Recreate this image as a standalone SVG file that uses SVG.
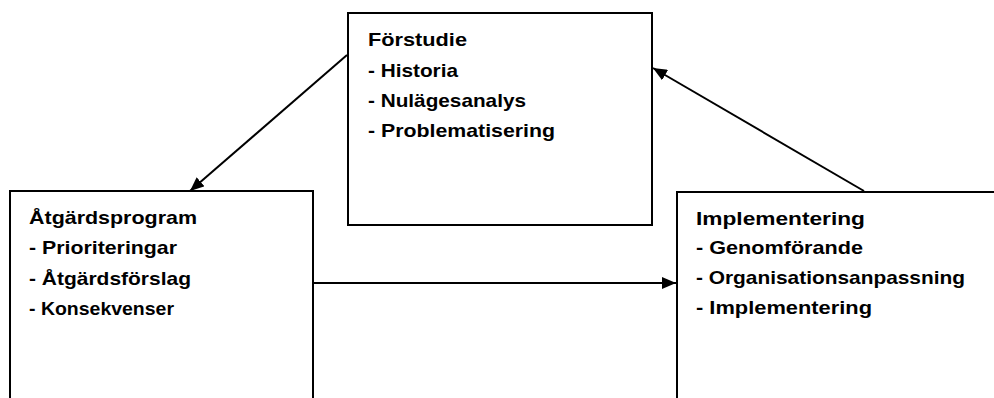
<svg xmlns="http://www.w3.org/2000/svg" width="994" height="398" viewBox="0 0 994 398">
  <style>
    .box { fill: #ffffff; stroke: #000000; stroke-width: 2; }
    .edge { fill: none; stroke: #000000; stroke-width: 2; }
    .t { font-family: "Liberation Sans", Arial, sans-serif; font-weight: bold; font-size: 19px; fill: #000000; }
  </style>
  <defs>
    <marker id="arrow" viewBox="0 0 14 12" refX="14" refY="6" markerWidth="14" markerHeight="12" markerUnits="userSpaceOnUse" orient="auto">
      <path d="M0,0 L14,6 L0,12 Z" fill="#000000"/>
    </marker>
  </defs>
  <rect width="994" height="398" fill="#ffffff"/>

  <g id="forstudie">
    <rect class="box" x="348" y="13" width="304" height="212"/>
    <text class="t" x="368" y="46" textLength="99" lengthAdjust="spacingAndGlyphs">Förstudie</text>
    <text class="t" x="368" y="77" textLength="90" lengthAdjust="spacingAndGlyphs">- Historia</text>
    <text class="t" x="368" y="107" textLength="158" lengthAdjust="spacingAndGlyphs">- Nulägesanalys</text>
    <text class="t" x="368" y="137" textLength="187" lengthAdjust="spacingAndGlyphs">- Problematisering</text>
  </g>

  <g id="atgardsprogram">
    <rect class="box" x="10" y="191" width="303" height="220"/>
    <text class="t" x="29" y="224" textLength="168" lengthAdjust="spacingAndGlyphs">Åtgärdsprogram</text>
    <text class="t" x="29" y="254" textLength="148" lengthAdjust="spacingAndGlyphs">- Prioriteringar</text>
    <text class="t" x="29" y="285" textLength="162" lengthAdjust="spacingAndGlyphs">- Åtgärdsförslag</text>
    <text class="t" x="29" y="315" textLength="145" lengthAdjust="spacingAndGlyphs">- Konsekvenser</text>
  </g>

  <g id="implementering">
    <rect class="box" x="677" y="192" width="330" height="220"/>
    <text class="t" x="696" y="225" textLength="169" lengthAdjust="spacingAndGlyphs">Implementering</text>
    <text class="t" x="696" y="254" textLength="167" lengthAdjust="spacingAndGlyphs">- Genomförande</text>
    <text class="t" x="696" y="284" textLength="269" lengthAdjust="spacingAndGlyphs">- Organisationsanpassning</text>
    <text class="t" x="696" y="314" textLength="176" lengthAdjust="spacingAndGlyphs">- Implementering</text>
  </g>

  <g id="connectors">
    <line class="edge" x1="347" y1="55" x2="190" y2="191" marker-end="url(#arrow)"/>
    <line class="edge" x1="313" y1="283" x2="676" y2="283" marker-end="url(#arrow)"/>
    <line class="edge" x1="864" y1="191" x2="653" y2="68" marker-end="url(#arrow)"/>
  </g>
</svg>
